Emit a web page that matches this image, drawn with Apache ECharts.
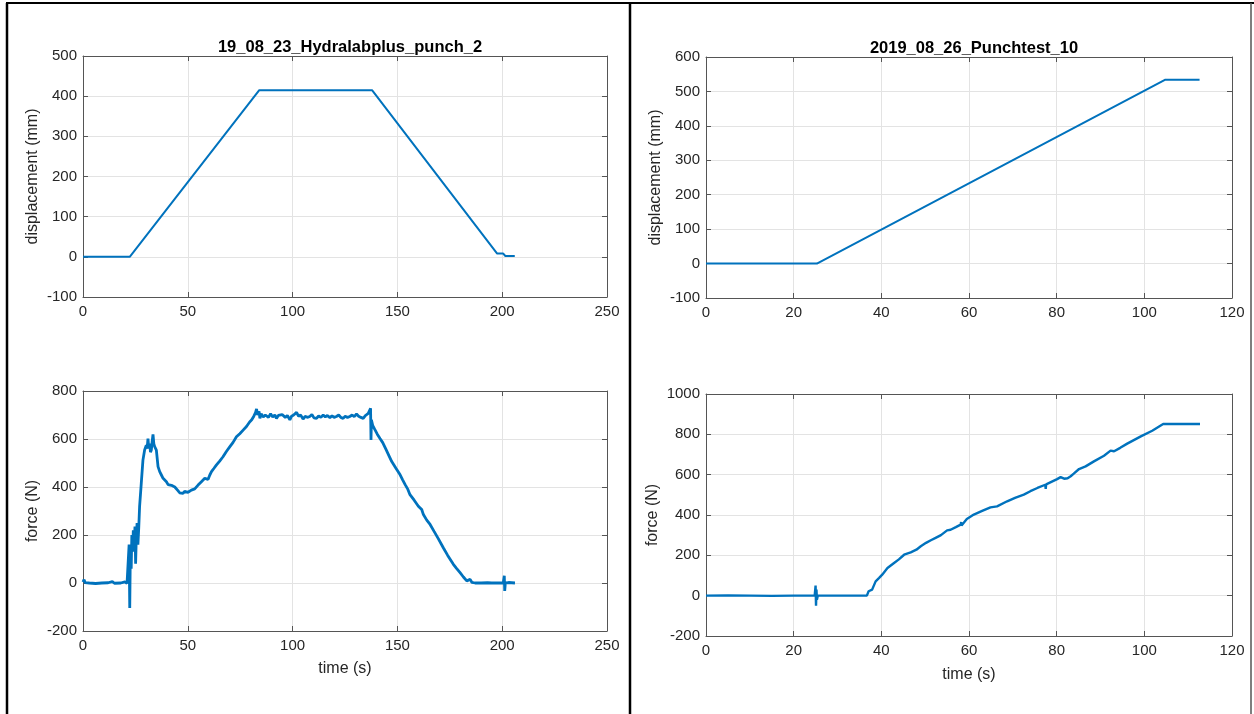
<!DOCTYPE html>
<html>
<head>
<meta charset="utf-8">
<script src="https://cdn.jsdelivr.net/npm/echarts@6/dist/echarts.min.js"></script>
<style>
  html, body { margin: 0; padding: 0; background: #fff; }
  #chart { width: 1254px; height: 714px; }
</style>
</head>
<body>
<div id="chart"></div>
<script>
// --- data ---
const titles = ["19_08_23_Hydralabplus_punch_2", "2019_08_26_Punchtest_10"];

// left panel: [time s, displacement mm]
const dispLeft = [[0,0],[22.3,0],[84.1,415],[137.9,415],[197.6,8],[200.5,8],[201.5,2],[206,2]];

// left panel: [time s, force N]
const forceLeft = [
  [0,4],[0.5,14],[1,2],[3,0],[6,-2],[9,0],[12,1],[14,6],[15,-1],[18,0],[20,5],[21,-2],[21.8,3],
  [22,160],[22.3,-104],[22.6,140],[23,60],[23.3,200],[23.7,130],[24,220],[24.4,150],[24.8,235],
  [25.1,80],[25.4,180],[25.8,250],[26.2,160],[26.6,230],[27,318],[27.8,415],[28.6,512],[29.4,554],
  [30.2,574],[30.6,560],[31,602],[31.4,560],[31.8,581],[32.2,545],[32.6,554],[33,590],[33.4,619],
  [33.8,580],[34.2,568],[34.6,575],[35,554],[35.8,485],[36.6,464],[37.4,450],[38.2,436],[39,430],
  [39.8,422],[40.6,410],[41.4,404],[42.2,407],[43,401],[43.8,400],[44.5,394],[45.3,385],[46.1,376],
  [46.9,379],[47.7,373],[48.5,382],[49.3,380],[50.1,378],[50.9,384],[51.7,387],[52.5,390],[53.3,392],
  [54.1,398],[54.9,408],[55.7,415],[56.5,422],[57.3,429],[58.1,436],[58.9,440],[59.7,432],[60.5,450],
  [61.3,464],[62.5,478],[63.6,491],[65.2,508],[66.8,526],[68.4,548],[70,567],[71.6,586],[73.2,609],
  [74.8,622],[76.4,637],[78,652],[79.5,671],[80.5,680],[81.5,695],[82.3,710],[82.8,725],[83.3,700],
  [84,715],[84.4,686],[85,705],[86,692],[87,700],[87.6,696],[88.5,690],[89.5,705],[90.5,692],
  [91.5,700],[92.3,686],[93.2,698],[94,690],[95,702],[95.5,700],[96.5,690],[97.5,698],[98.7,680],
  [99.5,695],[100.5,700],[101.2,705],[101.9,711],[102.8,695],[103.8,700],[105,683],[106,695],
  [107,690],[108.2,694],[109.2,702],[110.2,688],[111.4,686],[112.4,696],[113.5,690],[114.6,700],
  [115.6,692],[116.6,698],[117.8,689],[118.8,697],[119.8,690],[120.9,694],[122,700],[123,690],
  [124.1,686],[125.1,695],[126.2,690],[127.3,694],[128.4,700],[129.4,693],[130.5,704],[131.5,695],
  [132.6,690],[133.7,686],[134.8,698],[135.5,695],[136.1,707],[137,700],[137.2,728],[137.4,596],
  [137.6,680],[138.2,657],[139.2,640],[140.4,620],[141.7,602],[143,585],[144.5,558],[146,530],
  [147.3,506],[149.3,478],[151.3,451],[152.5,430],[153.7,410],[155,390],[156,368],[158,345],
  [160,320],[161.6,306],[162,300],[162.4,285],[163,290],[164,262],[165.6,244],[167.5,215],
  [169.5,185],[171.9,147],[174,115],[176.7,78],[178.3,60],[179.9,43],[181.5,25],[183.1,9],
  [183.8,5],[184.7,15],[185.5,3],[187.1,0],[190,0],[193,1],[195,0],[198,0],[200.5,0],[201,30],
  [201.2,-33],[201.5,0],[203,2],[206.1,0]
];

// right panel: [time s, displacement mm]
const dispRight = [[0,0],[25.3,0],[104.8,534],[112.6,534]];

// right panel: [time s, force N]
const forceRight = [
  [0,0],[5,1],[10,0],[15,-1],[20,0],[24.8,0],[25,50],[25.1,-50],[25.2,30],[25.3,-20],[25.5,0],
  [27.7,0],[27.8,8],[27.9,-6],[28,0],[33,0],[36.7,0],[37.1,22],[37.5,18],[37.9,30],[38.3,38],
  [38.7,71],[39.5,88],[40.2,104],[41.4,137],[42.9,162],[44,180],[45.2,203],[46.7,215],[48,228],
  [49,245],[50.2,262],[51.3,275],[52.5,288],[53.6,300],[55,324],[55.8,327],[57,340],[58.1,352],
  [58.2,365],[58.3,348],[59.5,380],[61.1,402],[63,420],[64.9,438],[66.4,443],[68.7,468],[70.5,485],
  [72.5,501],[74,518],[75.6,534],[77.4,550],[77.5,530],[77.6,552],[80.1,578],[80.9,588],[81.7,580],
  [82.5,582],[83.2,592],[83.9,605],[85.1,628],[86.6,641],[88.5,666],[90.8,694],[92.3,719],[93.1,716],
  [94.5,733],[96.1,754],[99.2,790],[101.8,818],[104.3,851],[108.9,851],[109,858],[109.1,842],
  [109.2,851],[112.7,851]
];

// axis ranges
const xRanges = [[0, 250, 50], [0, 250, 50], [0, 120, 20], [0, 120, 20]];
const yRanges = [[-100, 500, 100], [-200, 800, 200], [-100, 600, 100], [-200, 1000, 200]];
const yNames = ["displacement (mm)", "force (N)", "displacement (mm)", "force (N)"];

const FONT = "Liberation Sans, Arial, Helvetica, sans-serif";
const AXIS_COLOR = "#555555";
const LINE_COLOR = "#0072BD";

const grids = [
  { left: 83, top: 56, width: 524, height: 241 },
  { left: 83, top: 391, width: 524, height: 240 },
  { left: 706, top: 57, width: 526, height: 241 },
  { left: 706, top: 394, width: 526, height: 242 }
];
const yNameGaps = [42, 42, 42, 45];
const xNameGaps = [0, 30, 0, 31];

// plain numbers, no thousands separator
const plain = (v) => String(v);

const xAxes = [];
const yAxes = [];
grids.forEach((g, i) => {
  const [xmin, xmax, xint] = xRanges[i];
  const [ymin, ymax, yint] = yRanges[i];
  const base = {
    gridIndex: i,
    axisLine: { show: true, onZero: false, lineStyle: { color: AXIS_COLOR, width: 1 } },
    axisTick: { show: true, inside: true, length: 5, lineStyle: { color: AXIS_COLOR } }
  };
  xAxes.push(Object.assign({}, base, {
    type: "value", position: "bottom", min: xmin, max: xmax, interval: xint,
    name: xNameGaps[i] ? "time (s)" : "",
    nameLocation: "middle", nameGap: xNameGaps[i] || 0,
    nameTextStyle: { fontFamily: FONT, fontSize: 16, color: "#262626" },
    axisLabel: { fontFamily: FONT, fontSize: 15, color: "#262626", margin: 7, formatter: plain },
    splitLine: { show: true, lineStyle: { color: "#e3e3e3", width: 1 } }
  }));
  xAxes.push(Object.assign({}, base, {
    type: "value", position: "top", min: xmin, max: xmax, interval: xint,
    axisLabel: { show: false }, splitLine: { show: false }
  }));
  yAxes.push(Object.assign({}, base, {
    type: "value", position: "left", min: ymin, max: ymax, interval: yint,
    name: yNames[i], nameLocation: "middle", nameGap: yNameGaps[i], nameRotate: 90,
    nameTextStyle: { fontFamily: FONT, fontSize: 16, color: "#262626" },
    axisLabel: { fontFamily: FONT, fontSize: 15, color: "#262626", margin: 6, formatter: plain },
    splitLine: { show: true, lineStyle: { color: "#e3e3e3", width: 1 } }
  }));
  yAxes.push(Object.assign({}, base, {
    type: "value", position: "right", min: ymin, max: ymax, interval: yint,
    axisLabel: { show: false }, splitLine: { show: false }
  }));
});

function lineSeries(idx, data, width) {
  return {
    type: "line",
    xAxisIndex: idx * 2,
    yAxisIndex: idx * 2,
    data: data,
    showSymbol: false,
    symbol: "none",
    lineStyle: { color: LINE_COLOR, width: width },
    z: 5
  };
}

const chart = echarts.init(document.getElementById("chart"), null, { renderer: "canvas" });

chart.setOption({
  animation: false,
  backgroundColor: "#ffffff",
  title: [
    { text: titles[0], left: 345, top: 34, textAlign: "center",
      textStyle: { fontFamily: FONT, fontSize: 16.5, fontWeight: "bold", color: "#000" } },
    { text: titles[1], left: 969, top: 35, textAlign: "center",
      textStyle: { fontFamily: FONT, fontSize: 16.5, fontWeight: "bold", color: "#000" } }
  ],
  grid: grids,
  xAxis: xAxes,
  yAxis: yAxes,
  series: [
    lineSeries(0, dispLeft, 2),
    lineSeries(1, forceLeft, 2.8),
    lineSeries(2, dispRight, 2),
    lineSeries(3, forceRight, 2.4)
  ],
  graphic: [
    { type: "line", shape: { x1: 7, y1: 3, x2: 7, y2: 714 }, style: { stroke: "#000", lineWidth: 2.5 } },
    { type: "line", shape: { x1: 6, y1: 3, x2: 1254, y2: 3 }, style: { stroke: "#000", lineWidth: 2 } },
    { type: "line", shape: { x1: 630, y1: 3, x2: 630, y2: 714 }, style: { stroke: "#000", lineWidth: 2.5 } },
    { type: "line", shape: { x1: 1251, y1: 3, x2: 1251, y2: 714 }, style: { stroke: "#555", lineWidth: 1.5 } }
  ]
});

window.addEventListener("resize", () => chart.resize());
</script>
</body>
</html>
